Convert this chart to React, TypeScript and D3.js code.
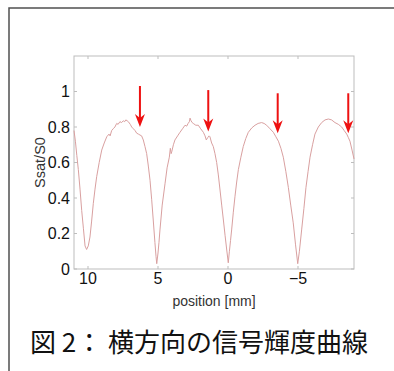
import { useEffect, useRef } from "react";
import * as d3 from "d3";

const width = 394;
const height = 371;

const marginTop = 56;
const marginLeft = 74;
const plotRight = 354;
const plotBottom = 269;

// profile: position [mm] and Ssat/S0
const positions = [
  11.0, 10.9, 10.8, 10.69, 10.57, 10.45, 10.33, 10.21, 10.1, 9.98, 9.86, 9.74,
  9.62, 9.5, 9.38, 9.2, 9.02, 8.84, 8.66, 8.5, 8.42, 8.31, 8.2, 8.08, 7.95,
  7.85, 7.72, 7.6, 7.48, 7.38, 7.3, 7.2, 7.12, 6.98, 6.88, 6.76, 6.64, 6.52,
  6.4, 6.29, 6.17, 6.05, 5.93, 5.81, 5.69, 5.57, 5.45, 5.34, 5.22, 5.14, 5.09,
  5.0, 4.93, 4.86, 4.7, 4.5, 4.35, 4.19, 4.12, 4.06, 4.02, 3.9, 3.79, 3.6,
  3.43, 3.25, 3.07, 2.95, 2.85, 2.76, 2.71, 2.64, 2.56, 2.48, 2.3, 2.12, 1.95,
  1.76, 1.64, 1.55, 1.45, 1.35, 1.29, 1.17, 1.05, 0.93, 0.81, 0.69, 0.57,
  0.45, 0.33, 0.21, 0.09, -0.02, -0.1, -0.18, -0.26, -0.38, -0.5, -0.62, -0.74,
  -0.92, -1.09, -1.27, -1.45, -1.7, -1.93, -2.15, -2.4, -2.58, -2.76, -3.0,
  -3.24, -3.42, -3.6, -3.78, -3.95, -4.13, -4.31, -4.48, -4.66, -4.82, -4.98,
  -5.1, -5.26, -5.42, -5.57, -5.72, -5.86, -6.04, -6.21, -6.45, -6.69, -6.93,
  -7.17, -7.4, -7.64, -7.88, -8.12, -8.3, -8.48, -8.6, -8.71, -8.86, -9.0,
];
const ratios = [
  0.78, 0.72, 0.64, 0.56, 0.45, 0.33, 0.23, 0.13, 0.11, 0.13, 0.18, 0.27,
  0.37, 0.45, 0.52, 0.6, 0.67, 0.71, 0.745, 0.76, 0.75, 0.78, 0.79, 0.8, 0.82,
  0.815, 0.83, 0.825, 0.835, 0.83, 0.84, 0.835, 0.83, 0.815, 0.8, 0.79, 0.78,
  0.765, 0.76, 0.755, 0.75, 0.727, 0.69, 0.65, 0.58, 0.5, 0.39, 0.276, 0.15,
  0.07, 0.03, 0.09, 0.15, 0.22, 0.36, 0.48, 0.57, 0.63, 0.68, 0.65, 0.66,
  0.7, 0.727, 0.75, 0.77, 0.79, 0.81, 0.805, 0.82, 0.83, 0.85, 0.835, 0.825,
  0.82, 0.81, 0.81, 0.79, 0.77, 0.75, 0.727, 0.74, 0.75, 0.745, 0.71, 0.69,
  0.65, 0.6, 0.53, 0.445, 0.36, 0.276, 0.19, 0.107, 0.035, 0.1, 0.16, 0.22,
  0.32, 0.41, 0.49, 0.56, 0.63, 0.69, 0.735, 0.77, 0.795, 0.81, 0.82, 0.825,
  0.82, 0.81, 0.79, 0.77, 0.745, 0.72, 0.68, 0.63, 0.55, 0.46, 0.36, 0.26,
  0.14, 0.03, 0.1, 0.22, 0.34, 0.46, 0.55, 0.63, 0.7, 0.76, 0.8, 0.825, 0.84,
  0.845, 0.84, 0.825, 0.815, 0.8, 0.78, 0.76, 0.74, 0.72, 0.67, 0.62,
];

// red arrows marking the shoulders
const arrowPositions = [6.29, 1.41, -3.55, -8.59];
const arrowTops = [1.031, 1.008, 0.99, 0.99];
const arrowTips = [0.8, 0.774, 0.765, 0.765];

const xTicks = [10, 5, 0, -5];
const xTickLabels = ["10", "5", "0", "\u22125"];
const yTicks = [0, 0.2, 0.4, 0.6, 0.8, 1];
const yTickLabels = ["0", "0.2", "0.4", "0.6", "0.8", "1"];

const App = () => {
  const ref = useRef<SVGSVGElement>(null);

  const xScale = d3.scaleLinear().domain([11, -9]).range([marginLeft, plotRight]);
  const yScale = d3.scaleLinear().domain([0, 1.2]).range([plotBottom, marginTop]);

  const line = d3
    .line<number>()
    .x((d) => xScale(d))
    .y((_, i) => yScale(ratios[i]));

  useEffect(() => {
    const svg = d3.select(ref.current);
    const g = svg.select(".ticks");
    g.selectAll("*").remove();
    const tickLen = 3;
    xTicks.forEach((t) => {
      const x = xScale(t);
      g.append("line").attr("x1", x).attr("x2", x).attr("y1", marginTop).attr("y2", marginTop + tickLen);
      g.append("line").attr("x1", x).attr("x2", x).attr("y1", plotBottom).attr("y2", plotBottom - tickLen);
    });
    yTicks.forEach((t) => {
      const y = yScale(t);
      g.append("line").attr("x1", marginLeft).attr("x2", marginLeft + tickLen).attr("y1", y).attr("y2", y);
      g.append("line").attr("x1", plotRight).attr("x2", plotRight - tickLen).attr("y1", y).attr("y2", y);
    });
    g.attr("stroke", "#bdbdbd").attr("stroke-width", 1);
  }, []);

  return (
    <svg
      ref={ref}
      width={width}
      height={height}
      style={{ position: "absolute", left: 0, top: 0, background: "#fff" }}
      fontFamily="'Liberation Sans', Arial, sans-serif"
    >
      {/* outer frame */}
      <path d={`M9,${height} V8 H${width}`} fill="none" stroke="#505050" strokeWidth={1.5} />

      {/* plot box */}
      <rect
        x={marginLeft}
        y={marginTop}
        width={plotRight - marginLeft}
        height={plotBottom - marginTop}
        fill="none"
        stroke="#bdbdbd"
        strokeWidth={1}
      />
      <g className="ticks"></g>

      <path d={line(positions) ?? ""} fill="none" stroke="#d9a0a0" strokeWidth={1} />

      {/* arrows */}
      <g fill="#ee1111" stroke="#ee1111">
        {arrowPositions.map((p, i) => {
          const x = xScale(p);
          const y0 = yScale(arrowTops[i]);
          const y1 = yScale(arrowTips[i]);
          return (
            <g key={p}>
              <line x1={x} x2={x} y1={y0} y2={y1 - 6} strokeWidth={2} />
              <path
                d={`M${x},${y1} L${x - 5},${y1 - 13} L${x},${y1 - 9} L${x + 5},${y1 - 13} Z`}
                stroke="none"
              />
            </g>
          );
        })}
      </g>

      {/* y tick labels */}
      <g fontSize={16} textAnchor="end" fill="#111">
        {yTicks.map((t, i) => (
          <text key={t} x={marginLeft - 4} y={yScale(t)} dominantBaseline="central">
            {yTickLabels[i]}
          </text>
        ))}
      </g>
      {/* x tick labels */}
      <g fontSize={16} textAnchor="middle" fill="#111">
        {xTicks.map((t, i) => (
          <text key={t} x={xScale(t)} y={284}>
            {xTickLabels[i]}
          </text>
        ))}
      </g>

      <text x={(marginLeft + plotRight) / 2} y={301} fontSize={14} textAnchor="middle" dominantBaseline="central" fill="#333">
        position [mm]
      </text>
      <text
        transform={`translate(40,${(marginTop + plotBottom) / 2}) rotate(-90)`}
        fontSize={14.5}
        textAnchor="middle"
        dominantBaseline="central"
        fill="#333"
      >
        Ssat/S0
      </text>

      {/* caption */}
      <text
        x={30}
        y={340}
        fontFamily="'Noto Sans CJK JP', sans-serif"
        fontSize={26}
        fill="#111"
        dominantBaseline="central"
      >
        図 2： 横方向の信号輝度曲線
      </text>
    </svg>
  );
};

export default App;
